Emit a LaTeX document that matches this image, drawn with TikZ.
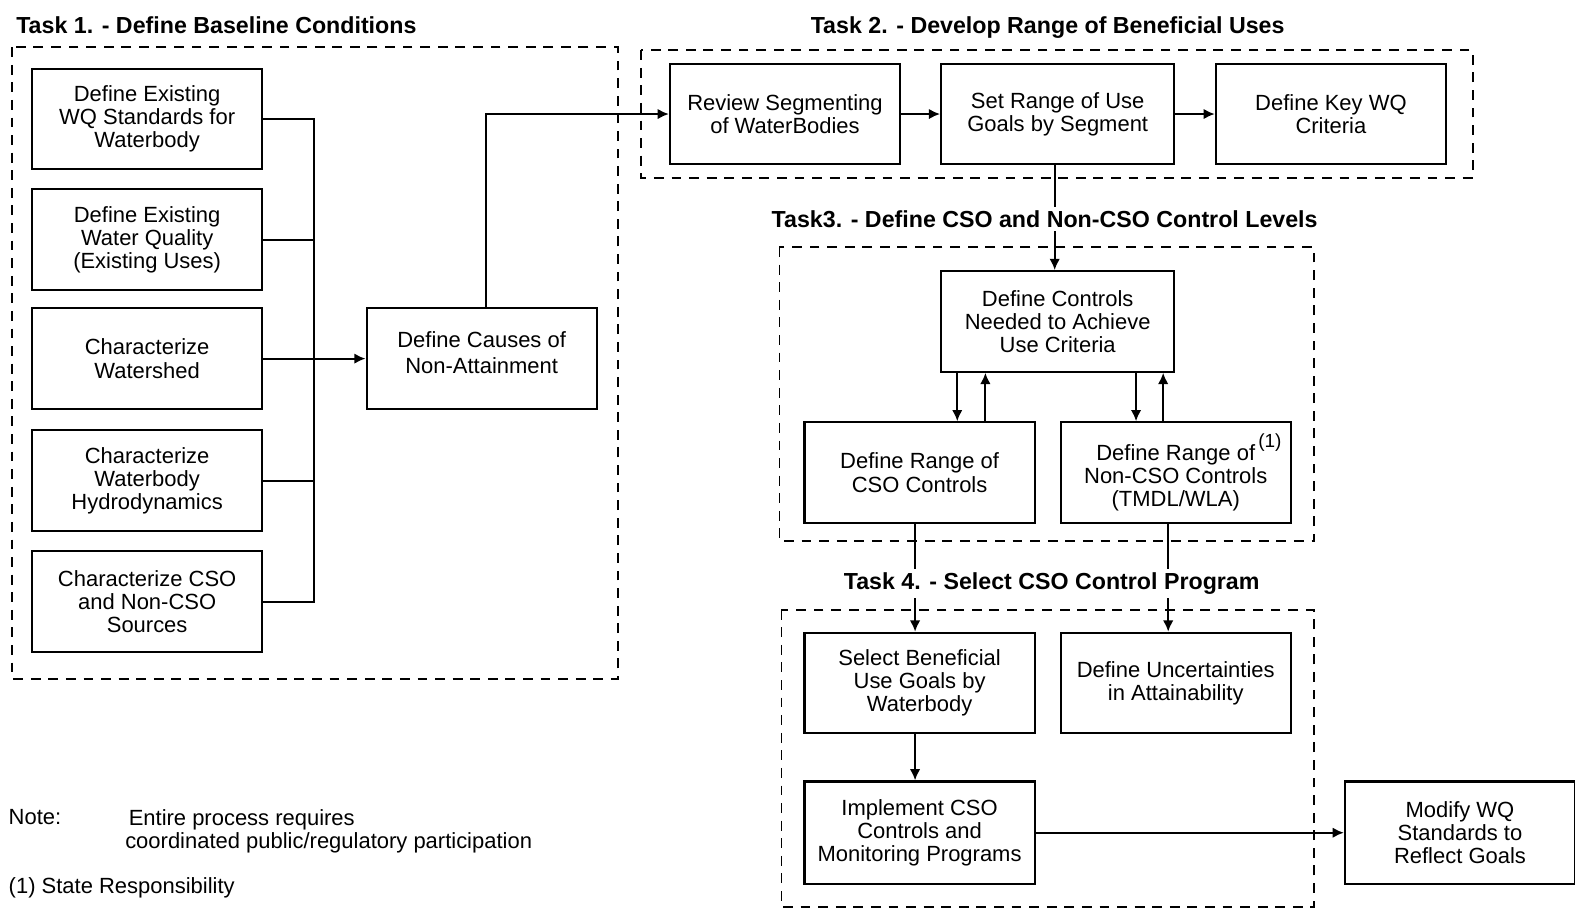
\documentclass[tikz,border=0pt]{standalone}
\usepackage{fontspec}
\setmainfont{Liberation Sans}
\usetikzlibrary{arrows.meta,calc}
\newcommand\boxfont{\fontsize{6.25pt}{6.6pt}\selectfont}
\newcommand\titlefont{\fontsize{6.6pt}{7pt}\selectfont\bfseries}
\tikzset{
  stepbox/.style={draw, line width=0.6pt, minimum width=2.30cm, minimum height=1.005cm,
    inner sep=0pt, align=center, font=\boxfont},
  wire/.style={line width=0.6pt},
  arr/.style={wire, -{Latex[length=3.2pt,width=3pt]}},
  groupbox/.style={line width=0.55pt, dash pattern=on 2.8pt off 2.2pt},
  tasktitle/.style={font=\titlefont, fill=white, inner sep=1pt},
  plain/.style={font=\boxfont, inner sep=0pt, align=left},
}
\begin{document}
\begin{tikzpicture}[x=0.010045cm, y=-0.010045cm]
\useasboundingbox (0,0) rectangle (1568,905);

% group frames
\draw[groupbox] (12,47) rectangle (615,676);
\draw[groupbox] (638,50) rectangle (1466,177);
\draw[groupbox] (776,246) rectangle (1308,539);
\draw[groupbox] (778,607) rectangle (1308,903);

% Task 1 boxes
\node[stepbox] (b1) at (146.5,118.5) {Define Existing\\WQ Standards for\\Waterbody};
\node[stepbox] (b2) at (146.5,238.5) {Define Existing\\Water Quality\\(Existing Uses)};
\node[stepbox] (b3) at (146.5,357) {Characterize\\Watershed};
\node[stepbox] (b4) at (146.5,478.5) {Characterize\\Waterbody\\Hydrodynamics};
\node[stepbox] (b5) at (146.5,599) {Characterize CSO\\and Non-CSO\\Sources};
\node[stepbox] (causes) at (479.5,357) {\raisebox{3.5pt}{\shortstack{Define Causes of\\Non-Attainment}}};

% Task 2 boxes
\node[stepbox] (review) at (781.5,113.5) {Review Segmenting\\of WaterBodies};
\node[stepbox, minimum width=2.33cm] (setrange) at (1053,113.5) {Set Range of Use\\Goals by Segment};
\node[stepbox] (keywq) at (1325,113.5) {Define Key WQ\\Criteria};

% Task 3 boxes
\node[stepbox, minimum width=2.33cm] (controls) at (1053,320) {Define Controls\\Needed to Achieve\\Use Criteria};
\node[stepbox] (csorange) at (915.5,470.5) {Define Range of\\CSO Controls};
\node[stepbox] (noncso) at (1170.5,470.5) {Define Range of\rlap{\raisebox{3.5pt}{\fontsize{5.4pt}{6pt}\selectfont\,(1)}}\\Non-CSO Controls\\(TMDL/WLA)};

% Task 4 boxes
\node[stepbox] (select) at (915.5,680) {Select Beneficial\\Use Goals by\\Waterbody};
\node[stepbox] (uncert) at (1170.5,680) {Define Uncertainties\\in Attainability};
\node[stepbox, minimum height=1.025cm] (implement) at (915.5,829) {Implement CSO\\Controls and\\Monitoring Programs};
\node[stepbox, minimum height=1.025cm] (modify) at (1453.5,829) {Modify WQ\\Standards to\\Reflect Goals};

% Task 1 collector bus
\coordinate (busx) at (313,0);
\draw[wire] (b1.east) -| (busx |- b5.east) -- (b5.east);
\draw[wire] (b2.east) -- (busx |- b2.east);
\draw[wire] (b4.east) -- (busx |- b4.east);
\draw[arr] (b3.east) -- (causes.west);

% Task 1 -> Task 2
\coordinate (upx) at (484,0);
\draw[arr] (upx |- causes.north) -- (upx |- review.west) -- (review.west);
\draw[arr] (review) -- (setrange);
\draw[arr] (setrange) -- (keywq);

% Task 2 -> Task 3
\coordinate (downx) at (1050,0);
\draw[arr] (downx |- setrange.south) -- (downx |- controls.north);

% Task 3 feedback loops
\coordinate (xa) at (953,0);
\coordinate (xb) at (981,0);
\coordinate (xc) at (1131,0);
\coordinate (xd) at (1158,0);
\draw[arr] (xa |- controls.south) -- (xa |- csorange.north);
\draw[arr] (xb |- csorange.north) -- (xb |- controls.south);
\draw[arr] (xc |- controls.south) -- (xc |- noncso.north);
\draw[arr] (xd |- noncso.north) -- (xd |- controls.south);

% Task 3 -> Task 4
\coordinate (xe) at (911,0);
\coordinate (xf) at (1163,0);
\draw[arr] (xe |- csorange.south) -- (xe |- select.north);
\draw[arr] (xf |- noncso.south) -- (xf |- uncert.north);
\draw[arr] (xe |- select.south) -- (xe |- implement.north);
\draw[arr] (implement.east) -- (modify.west);

% task titles
\node[tasktitle, anchor=west] (t1) at (12,25) {Task 1. - Define Baseline Conditions};
\node[tasktitle] (t2) at (1043,27) {Task 2. - Develop Range of Beneficial Uses};
\node[tasktitle] (t3) at (1040,218) {Task3. - Define CSO and Non-CSO Control Levels};
\node[tasktitle] (t4) at (1047,581) {Task 4. - Select CSO Control Program};

% notes
\node[plain, anchor=west] (notelbl) at (8,813) {Note:};
\node[plain, anchor=north west] (notetxt) at (124,805) {\hspace{1pt}Entire process requires\\coordinated public/regulatory participation};
\node[plain, anchor=west] (footnote) at (8,884) {(1) State Responsibility};
\end{tikzpicture}
\end{document}
